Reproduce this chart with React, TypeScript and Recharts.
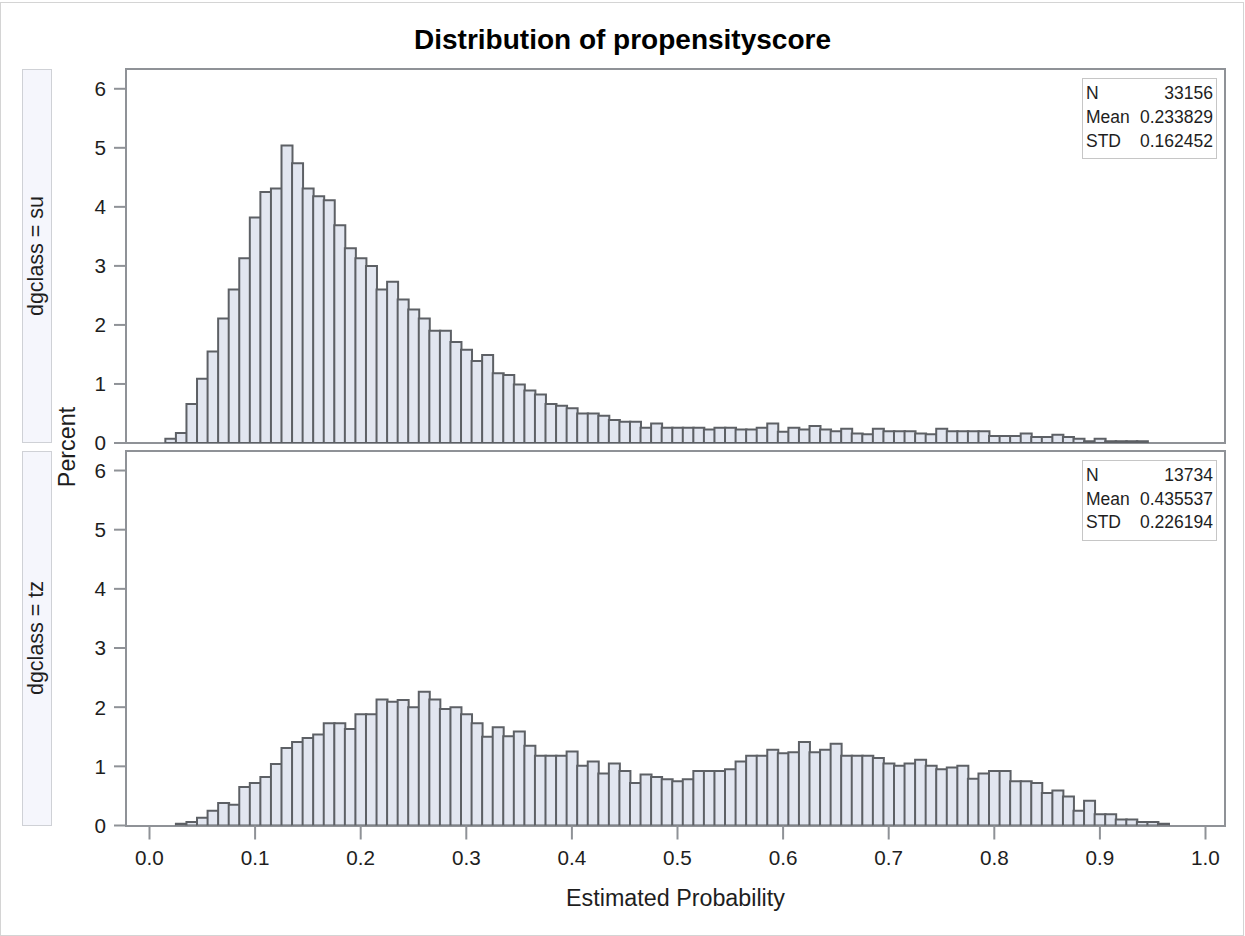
import React from 'react';
import { BarChart, Bar, XAxis, YAxis } from 'recharts';

// ---- Data (bin midpoints and percentages) ----
const suMid = [
  0.02, 0.03, 0.04, 0.05, 0.06, 0.07, 0.08, 0.09, 0.10, 0.11, 0.12, 0.13, 0.14, 0.15, 0.16, 0.17,
  0.18, 0.19, 0.20, 0.21, 0.22, 0.23, 0.24, 0.25, 0.26, 0.27, 0.28, 0.29, 0.30, 0.31, 0.32, 0.33,
  0.34, 0.35, 0.36, 0.37, 0.38, 0.39, 0.40, 0.41, 0.42, 0.43, 0.44, 0.45, 0.46, 0.47, 0.48, 0.49,
  0.50, 0.51, 0.52, 0.53, 0.54, 0.55, 0.56, 0.57, 0.58, 0.59, 0.60, 0.61, 0.62, 0.63, 0.64, 0.65,
  0.66, 0.67, 0.68, 0.69, 0.70, 0.71, 0.72, 0.73, 0.74, 0.75, 0.76, 0.77, 0.78, 0.79, 0.80, 0.81,
  0.82, 0.83, 0.84, 0.85, 0.86, 0.87, 0.88, 0.89, 0.90, 0.91, 0.92, 0.93, 0.94,
];
const suPct = [
  0.07, 0.17, 0.66, 1.09, 1.55, 2.11, 2.60, 3.13, 3.82, 4.25, 4.31, 5.04, 4.74, 4.31, 4.18, 4.11,
  3.69, 3.30, 3.13, 3.00, 2.60, 2.73, 2.43, 2.26, 2.11, 1.90, 1.90, 1.71, 1.58, 1.39, 1.49, 1.18,
  1.15, 0.99, 0.89, 0.82, 0.66, 0.63, 0.59, 0.50, 0.50, 0.46, 0.39, 0.36, 0.36, 0.26, 0.33, 0.26,
  0.26, 0.26, 0.26, 0.23, 0.26, 0.26, 0.23, 0.23, 0.26, 0.33, 0.19, 0.26, 0.23, 0.29, 0.23, 0.20,
  0.24, 0.16, 0.15, 0.24, 0.20, 0.20, 0.20, 0.16, 0.15, 0.24, 0.20, 0.20, 0.20, 0.20, 0.12, 0.12,
  0.12, 0.16, 0.10, 0.10, 0.14, 0.10, 0.07, 0.03, 0.07, 0.03, 0.03, 0.03, 0.03,
];
const tzMid = [
  0.03, 0.04, 0.05, 0.06, 0.07, 0.08, 0.09, 0.10, 0.11, 0.12, 0.13, 0.14, 0.15, 0.16, 0.17, 0.18,
  0.19, 0.20, 0.21, 0.22, 0.23, 0.24, 0.25, 0.26, 0.27, 0.28, 0.29, 0.30, 0.31, 0.32, 0.33, 0.34,
  0.35, 0.36, 0.37, 0.38, 0.39, 0.40, 0.41, 0.42, 0.43, 0.44, 0.45, 0.46, 0.47, 0.48, 0.49, 0.50,
  0.51, 0.52, 0.53, 0.54, 0.55, 0.56, 0.57, 0.58, 0.59, 0.60, 0.61, 0.62, 0.63, 0.64, 0.65, 0.66,
  0.67, 0.68, 0.69, 0.70, 0.71, 0.72, 0.73, 0.74, 0.75, 0.76, 0.77, 0.78, 0.79, 0.80, 0.81, 0.82,
  0.83, 0.84, 0.85, 0.86, 0.87, 0.88, 0.89, 0.90, 0.91, 0.92, 0.93, 0.94, 0.95, 0.96,
];
const tzPct = [
  0.03, 0.06, 0.13, 0.25, 0.38, 0.35, 0.65, 0.72, 0.82, 1.04, 1.31, 1.41, 1.48, 1.54, 1.73, 1.73,
  1.63, 1.88, 1.88, 2.13, 2.09, 2.12, 2.00, 2.26, 2.13, 1.97, 2.00, 1.88, 1.73, 1.50, 1.66, 1.51,
  1.59, 1.35, 1.18, 1.18, 1.18, 1.25, 1.01, 1.08, 0.88, 1.05, 0.92, 0.72, 0.86, 0.82, 0.78, 0.75,
  0.78, 0.92, 0.92, 0.92, 0.95, 1.08, 1.18, 1.18, 1.28, 1.22, 1.24, 1.41, 1.24, 1.28, 1.38, 1.18,
  1.18, 1.18, 1.14, 1.05, 1.01, 1.05, 1.11, 1.01, 0.95, 0.98, 1.01, 0.79, 0.88, 0.92, 0.92, 0.75,
  0.75, 0.72, 0.55, 0.59, 0.49, 0.25, 0.42, 0.19, 0.19, 0.10, 0.10, 0.06, 0.06, 0.03,
];
const xTicks = [0, 0.1, 0.2, 0.3, 0.4, 0.5, 0.6, 0.7, 0.8, 0.9, 1.0];
const yTicks = [0, 1, 2, 3, 4, 5, 6];
const statLabels = ['N', 'Mean', 'STD'];
const suStats = ['33156', '0.233829', '0.162452'];
const tzStats = ['13734', '0.435537', '0.226194'];
const stripLabels = ['dgclass = su', 'dgclass = tz'];
const titleText = 'Distribution of propensityscore';
const xLabel = 'Estimated Probability';
const yLabel = 'Percent';

// ---- Styling / layout ----
const FONT = '"Liberation Sans", Arial, Helvetica, sans-serif';
const W = 1245;
const H = 936;
const PLOT_L = 126;
const PLOT_R = 1225;
const X_PER_UNIT = 1056;
const X_ZERO = 149.5;
const X_DOMAIN: [number, number] = [(PLOT_L - X_ZERO) / X_PER_UNIT, (PLOT_R - X_ZERO) / X_PER_UNIT];
const Y_DOMAIN: [number, number] = [0, 6.33];
const BAR_FILL = '#e2e6f0';
const BAR_STROKE = '#5d6065';
const FRAME = '#8f9297';
const TEXT = '#1e1e1e';

type PanelProps = {
  mid: number[];
  pct: number[];
  stats: string[];
  strip: string;
  plotTop: number;
  plotBottom: number;
  chartTop: number;
  chartH: number;
  showX: boolean;
};

function Panel({ mid, pct, stats, strip, plotTop, plotBottom, chartTop, chartH, showX }: PanelProps) {
  const data = mid.map((x, i) => ({ x, pct: pct[i] }));
  const xAxisH = 40;
  const marginBottom = chartH - (plotBottom - chartTop) - (showX ? xAxisH : 0);
  return (
    <>
      {/* strip */}
      <div
        style={{
          position: 'absolute',
          left: 22,
          top: plotTop,
          width: 30,
          height: plotBottom - plotTop,
          boxSizing: 'border-box',
          background: '#f5f6fc',
          border: '1.5px solid #cfd1d6',
        }}
      />
      <div
        style={{
          position: 'absolute',
          left: 37,
          top: (plotTop + plotBottom) / 2,
          transform: 'translate(-50%, -50%) rotate(-90deg)',
          whiteSpace: 'nowrap',
          fontFamily: FONT,
          fontSize: 21.5,
          lineHeight: '21.5px',
          color: TEXT,
        }}
      >
        {strip}
      </div>
      {/* frame */}
      <div
        style={{
          position: 'absolute',
          left: PLOT_L - 1,
          top: plotTop - 1,
          width: PLOT_R - PLOT_L + 2,
          height: plotBottom - plotTop + 2,
          boxSizing: 'border-box',
          border: `2px solid ${FRAME}`,
        }}
      />
      <div style={{ position: 'absolute', left: 0, top: chartTop }}>
        <BarChart
          width={W}
          height={chartH}
          data={data}
          margin={{ top: plotTop - chartTop, right: W - PLOT_R, left: PLOT_L - 60, bottom: marginBottom }}
          barCategoryGap={0}
          barGap={0}
        >
          <XAxis
            dataKey="x"
            type="number"
            domain={X_DOMAIN}
            allowDataOverflow
            ticks={xTicks}
            interval={0}
            hide={!showX}
            height={xAxisH}
            tickFormatter={(v: number) => v.toFixed(1)}
            axisLine={false}
            tickSize={14}
            tickMargin={11}
            tickLine={{ stroke: FRAME, strokeWidth: 2 }}
            tick={{ fontSize: 20.7, fill: TEXT, fontFamily: FONT }}
          />
          <YAxis
            type="number"
            domain={Y_DOMAIN}
            allowDataOverflow
            ticks={yTicks}
            interval={0}
            width={60}
            axisLine={false}
            tickSize={12}
            tickMargin={8}
            tickLine={{ stroke: FRAME, strokeWidth: 2 }}
            tick={{ fontSize: 20.7, fill: TEXT, fontFamily: FONT }}
          />
          <Bar dataKey="pct" fill={BAR_FILL} stroke={BAR_STROKE} strokeWidth={2} isAnimationActive={false} />
        </BarChart>
      </div>
      {/* inset statistics table */}
      <div
        style={{
          position: 'absolute',
          left: 1082,
          top: plotTop + 9,
          width: 135,
          height: 81,
          boxSizing: 'border-box',
          border: '1.5px solid #c6c6c6',
          background: '#fff',
          paddingTop: 3,
          fontFamily: FONT,
          fontSize: 17.5,
          color: TEXT,
        }}
      >
        {statLabels.map((lab, i) => (
          <div
            key={lab}
            style={{
              display: 'flex',
              justifyContent: 'space-between',
              height: 23.7,
              lineHeight: '23.7px',
              paddingLeft: 3,
              paddingRight: 3,
            }}
          >
            <span>{lab}</span>
            <span>{stats[i]}</span>
          </div>
        ))}
      </div>
    </>
  );
}

export default function App() {
  return (
    <div
      style={{
        position: 'absolute',
        left: 0,
        top: 0,
        width: W,
        height: H,
        background: '#fff',
        overflow: 'hidden',
        fontFamily: FONT,
      }}
    >
      <div
        style={{
          position: 'absolute',
          left: 0,
          top: 1.5,
          width: W - 1,
          height: H - 2,
          boxSizing: 'border-box',
          border: '1.5px solid #d4d4d4',
        }}
      />
      <div
        style={{
          position: 'absolute',
          left: 0,
          top: 26.3,
          width: W,
          textAlign: 'center',
          fontFamily: FONT,
          fontWeight: 'bold',
          fontSize: 28,
          lineHeight: '28px',
          color: '#000',
        }}
      >
        {titleText}
      </div>
      <Panel
        mid={suMid}
        pct={suPct}
        stats={suStats}
        strip={stripLabels[0]}
        plotTop={69.3}
        plotBottom={443}
        chartTop={0}
        chartH={460}
        showX={false}
      />
      <Panel
        mid={tzMid}
        pct={tzPct}
        stats={tzStats}
        strip={stripLabels[1]}
        plotTop={451}
        plotBottom={825.5}
        chartTop={440}
        chartH={496}
        showX={true}
      />
      <div
        style={{
          position: 'absolute',
          left: 67.5,
          top: 447,
          transform: 'translate(-50%, -50%) rotate(-90deg)',
          whiteSpace: 'nowrap',
          fontFamily: FONT,
          fontSize: 23.3,
          lineHeight: '23.3px',
          color: TEXT,
        }}
      >
        {yLabel}
      </div>
      <div
        style={{
          position: 'absolute',
          left: PLOT_L,
          top: 886.8,
          width: PLOT_R - PLOT_L,
          textAlign: 'center',
          fontFamily: FONT,
          fontSize: 23.3,
          lineHeight: '23.3px',
          color: TEXT,
        }}
      >
        {xLabel}
      </div>
    </div>
  );
}
